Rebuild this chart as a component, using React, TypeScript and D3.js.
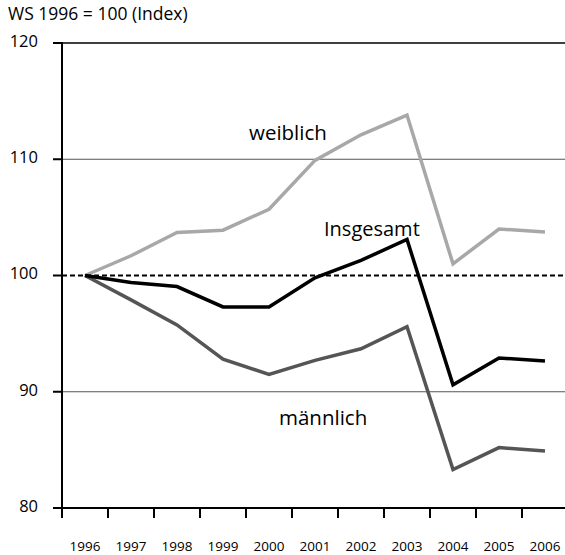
import React from "react";
import * as d3 from "d3";

const years = ["1996","1997","1998","1999","2000","2001","2002","2003","2004","2005","2006"];
const weiblich = [100, 101.7, 103.7, 103.9, 105.7, 109.9, 112.1, 113.8, 101.0, 104.0, 103.75];
const insgesamt = [100, 99.4, 99.05, 97.3, 97.3, 99.8, 101.3, 103.1, 90.6, 92.9, 92.65];
const maennlich = [100, 97.9, 95.75, 92.8, 91.5, 92.7, 93.7, 95.6, 83.3, 85.2, 84.9];
const yTicks = [80, 90, 100, 110, 120];
const gridVals = [90, 110];

const W = 565, H = 555;
const FONT = "'Open Sans', 'Noto Sans', sans-serif";

export default function App() {
  const x = d3.scaleBand<string>().domain(years).range([62, 568]).padding(0);
  const y = d3.scaleLinear().domain([80, 120]).range([508, 43]);
  const cx = (yr: string) => (x(yr) as number) + x.bandwidth() / 2;
  const line = d3.line<number>().x((_, i) => cx(years[i])).y((v) => y(v));

  const series = [
    { name: "weiblich", data: weiblich, color: "#a8a8a8" },
    { name: "männlich", data: maennlich, color: "#555555" },
    { name: "Insgesamt", data: insgesamt, color: "#000000" },
  ];

  return (
    <svg width={W} height={H} style={{ position: "absolute", left: 0, top: 0, background: "#fff" }}
      fontFamily={FONT}>
      {gridVals.map((v) => (
        <line key={v} x1={62} x2={W} y1={y(v)} y2={y(v)} stroke="#555" strokeWidth={1.2} />
      ))}
      <line x1={62} x2={W} y1={y(120)} y2={y(120)} stroke="#000" strokeWidth={1.6} />
      {series.map((s) => (
        <path key={s.name} d={line(s.data) || ""} fill="none" stroke={s.color} strokeWidth={3.5}
          strokeLinejoin="miter" />
      ))}
      <line x1={62} x2={W} y1={y(100)} y2={y(100)} stroke="#000" strokeWidth={2} strokeDasharray="5,3" />
      {/* y axis */}
      <line x1={62} x2={62} y1={y(120) - 1} y2={y(80) + 10} stroke="#000" strokeWidth={2} />
      {yTicks.map((v) => (
        <g key={v}>
          <line x1={53} x2={62} y1={y(v)} y2={y(v)} stroke="#000" strokeWidth={2} />
          <text x={38} y={y(v) - 2} dy="0.35em" textAnchor="end" fontSize={16.5} fill="#000">{v}</text>
        </g>
      ))}
      {/* x axis */}
      <line x1={53} x2={W} y1={y(80)} y2={y(80)} stroke="#000" strokeWidth={2} />
      {years.map((yr) => (
        <line key={"t" + yr} x1={x(yr) as number} x2={x(yr) as number} y1={y(80)} y2={y(80) + 10}
          stroke="#000" strokeWidth={2} />
      ))}
      {years.map((yr) => (
        <text key={"l" + yr} x={cx(yr)} y={551} textAnchor="middle" fontSize={13.5} fill="#000">{yr}</text>
      ))}
      <text x={8} y={20} fontSize={17.5} fill="#000">WS 1996 = 100 (Index)</text>
      <text x={249} y={140} fontSize={20.5} fill="#000">weiblich</text>
      <text x={324} y={236} fontSize={20} fill="#000">Insgesamt</text>
      <text x={279} y={425} fontSize={20.5} fill="#000">männlich</text>
    </svg>
  );
}
